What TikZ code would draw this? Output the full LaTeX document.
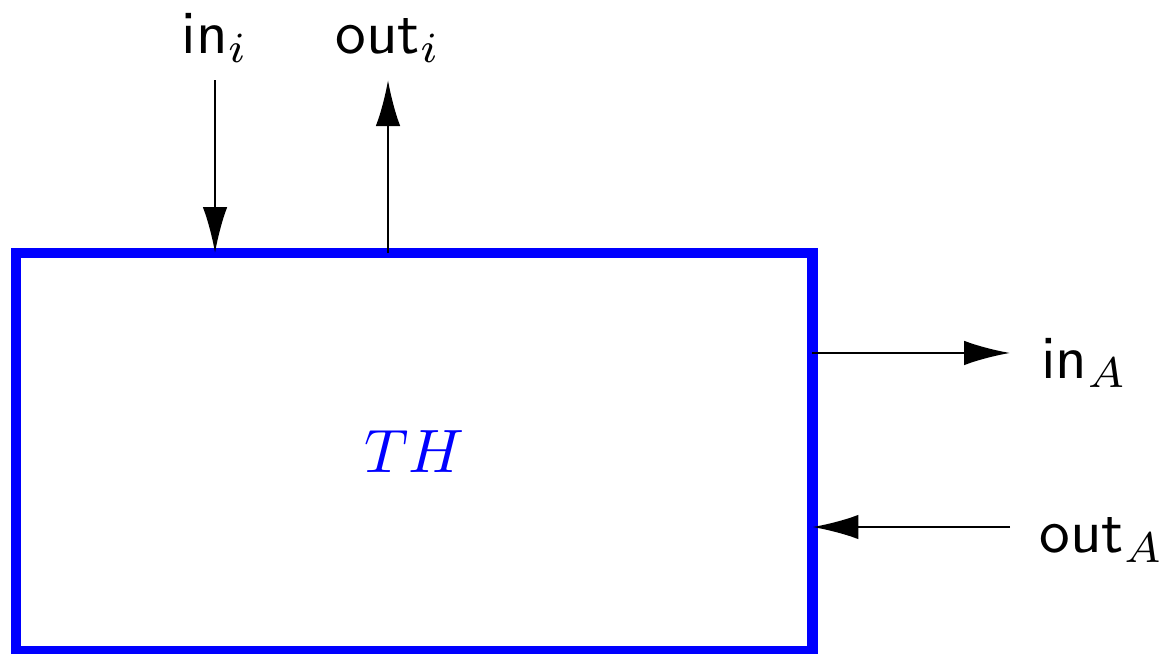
\documentclass[tikz,border=0pt]{standalone}
\usepackage{amsmath}
\usepackage{xcolor}
\usepackage{tikz}
\usetikzlibrary{arrows.meta, positioning}

\begin{document}
\begin{tikzpicture}[
  every node/.style={font=\normalsize},
  thbox/.style={draw=blue, line width=1.7pt, outer sep=0pt, inner sep=0pt,
    minimum width=4.567cm, minimum height=2.282cm, text=blue},
  sig/.style={-{Latex[length=7.5pt,width=4pt]}, line width=0.4pt},
  lbl/.style={inner sep=0pt}
]
\useasboundingbox (-0.092,-0.017) rectangle (6.600,3.733);
% The block itself
\node[thbox] (th) at (2.2835,1.141) {$TH$};
% Free ends of the signals
\coordinate (ini)  at (1.141,3.274);
\coordinate (outi) at (2.133,3.274);
\coordinate (inA)  at (5.700,1.709);
\coordinate (outA) at (5.700,0.711);
% Signals
\draw[sig] (ini) -- (ini |- th.north);
\draw[sig] (outi |- th.north) -- (outi);
\draw[sig] (inA -| th.east) -- (inA);
\draw[sig] (outA) -- (outA -| th.east);
% Labels
\node[lbl, anchor=base] (ini-l)  at (1.141,3.429) {\textsf{in}$_i$};
\node[lbl, anchor=base] (outi-l) at (2.133,3.429) {\textsf{out}$_i$};
\node[lbl, anchor=base west] (inA-l)  at (5.872,1.565) {\textsf{in}$_A$};
\node[lbl, anchor=base west] (outA-l) at (5.862,0.562) {\textsf{out}$_A$};
\end{tikzpicture}
\end{document}
